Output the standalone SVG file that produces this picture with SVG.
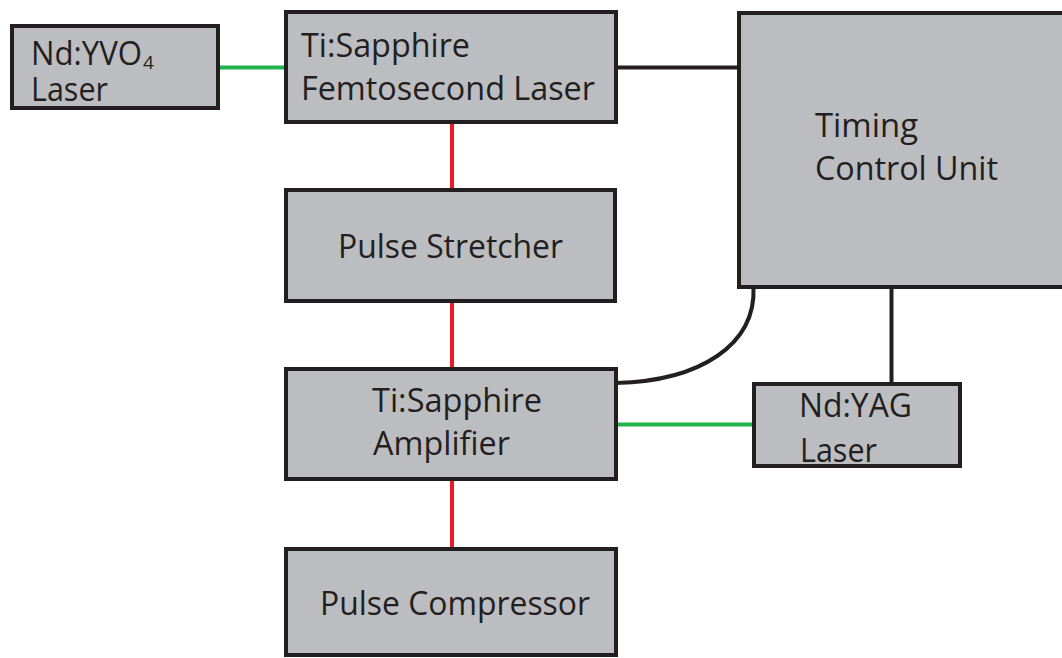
<svg xmlns="http://www.w3.org/2000/svg" width="1062" height="658" viewBox="0 0 1062 658">
<style>
.box{fill:#bcbdc0;stroke:#231f20;stroke-width:4}
.t{font-family:"Open Sans","Noto Sans","Liberation Sans",sans-serif;font-size:33px;fill:#231f20}
.red{stroke:#ed1c24;stroke-width:4;fill:none}
.grn{stroke:#22b24c;stroke-width:4;fill:none}
.blk{stroke:#231f20;stroke-width:4;fill:none}
</style>
<rect width="1062" height="658" fill="#ffffff"/>
<g id="connectors">
<line class="grn" x1="218" y1="67.5" x2="286" y2="67.5"/>
<line class="blk" x1="616" y1="67.5" x2="739" y2="67.5"/>
<line class="red" x1="452" y1="122" x2="452" y2="190"/>
<line class="red" x1="452" y1="301" x2="452" y2="369"/>
<line class="red" x1="452" y1="479" x2="452" y2="549"/>
<path class="blk" d="M616,383 C700,381 756,345 753.5,287"/>
<line class="blk" x1="891.5" y1="287" x2="891.5" y2="384"/>
<line class="grn" x1="616" y1="424.5" x2="754" y2="424.5"/>
</g>
<g id="ndyvo4">
<rect class="box" x="12" y="26" width="206" height="82"/>
<text class="t" x="31" y="65"><tspan textLength="111" lengthAdjust="spacingAndGlyphs">Nd:YVO</tspan><tspan x="143" y="68.5" style="font-size:19px">4</tspan></text>
<text class="t" x="31" y="101" textLength="77" lengthAdjust="spacingAndGlyphs">Laser</text>
</g>
<g id="femto">
<rect class="box" x="286" y="12" width="330" height="110"/>
<text class="t" x="301" y="57" textLength="169" lengthAdjust="spacingAndGlyphs">Ti:Sapphire</text>
<text class="t" x="301" y="100" textLength="294" lengthAdjust="spacingAndGlyphs">Femtosecond Laser</text>
</g>
<g id="timing">
<rect class="box" x="739" y="13" width="340" height="274"/>
<text class="t" x="815" y="137" textLength="103" lengthAdjust="spacingAndGlyphs">Timing</text>
<text class="t" x="815" y="180" textLength="183" lengthAdjust="spacingAndGlyphs">Control Unit</text>
</g>
<g id="stretcher">
<rect class="box" x="286" y="190" width="329" height="111"/>
<text class="t" x="338" y="258" textLength="225" lengthAdjust="spacingAndGlyphs">Pulse Stretcher</text>
</g>
<g id="amplifier">
<rect class="box" x="286" y="369" width="330" height="110"/>
<text class="t" x="372" y="411.5" textLength="170" lengthAdjust="spacingAndGlyphs">Ti:Sapphire</text>
<text class="t" x="373" y="455" textLength="137" lengthAdjust="spacingAndGlyphs">Amplifier</text>
</g>
<g id="ndyag">
<rect class="box" x="754" y="384" width="206" height="82"/>
<text class="t" x="799" y="416.5" textLength="113" lengthAdjust="spacingAndGlyphs">Nd:YAG</text>
<text class="t" x="800" y="461.5" textLength="77" lengthAdjust="spacingAndGlyphs">Laser</text>
</g>
<g id="compressor">
<rect class="box" x="286" y="549" width="330" height="106"/>
<text class="t" x="320" y="615" textLength="270" lengthAdjust="spacingAndGlyphs">Pulse Compressor</text>
</g>
</svg>
